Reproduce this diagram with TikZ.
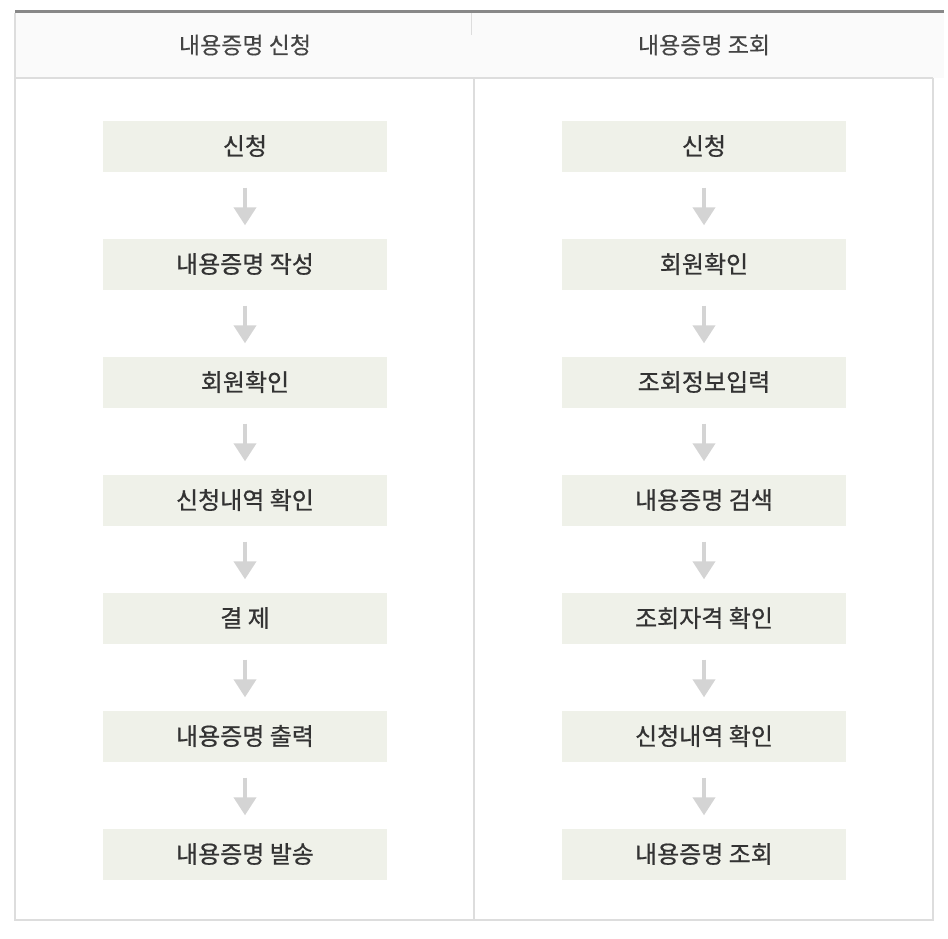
\documentclass[tikz,border=0pt]{standalone}
\usepackage{fontspec}
\setmainfont{Noto Sans CJK KR}
\newfontfamily\boxfont{Noto Sans CJK KR}[FakeBold=0.7]
\newfontfamily\hdrfont{Noto Sans CJK KR}[FakeBold=0.3]
\usetikzlibrary{positioning,arrows.meta}
\definecolor{boxfill}{HTML}{EFF1E9}
\definecolor{txt}{HTML}{333333}
\definecolor{hdrtxt}{HTML}{444444}
\definecolor{hdrfill}{HTML}{FAFAFA}
\definecolor{linegray}{HTML}{DDDDDD}
\definecolor{topgray}{HTML}{888888}
\definecolor{arrowgray}{HTML}{D4D4D4}
\tikzset{
  stepbox/.style={fill=boxfill, draw=none, minimum width=284pt, minimum height=51pt, inner sep=0pt, font=\boxfont\fontsize{24pt}{27pt}\selectfont, text=txt},
  hdr/.style={font=\hdrfont\fontsize{23pt}{26pt}\selectfont, text=hdrtxt, inner sep=0pt},
  flowarrow/.style={draw=arrowgray, line width=4pt, -{Triangle[width=22pt,length=18pt]}, shorten <=16pt, shorten >=13pt}
}
\begin{document}
\begin{tikzpicture}[x=1pt,y=-1pt]
\useasboundingbox (0,0) rectangle (948,938);
\fill[white] (0,0) rectangle (948,938);
% header
\fill[hdrfill] (15,13) rectangle (944,78);
\fill[topgray] (15,10) rectangle (944,13);
\draw[linegray, line width=0.8pt] (471,13) -- (471,35);
\draw[linegray, line width=2pt] (15,78) -- (933,78);
% body frame
\draw[linegray, line width=1.5pt] (15,13) -- (15,920) -- (933,920) -- (933,78);
\draw[linegray, line width=1.5pt] (474,78) -- (474,920);
\node[hdr] (h1) at (245,45) {내용증명 신청};
\node[hdr] (h2) at (704,45) {내용증명 조회};
% left column
\node[stepbox] (l1) at (245,146) {신청};
\node[stepbox] (l2) at (245,264) {내용증명 작성};
\node[stepbox] (l3) at (245,382) {회원확인};
\node[stepbox] (l4) at (245,500) {신청내역 확인};
\node[stepbox] (l5) at (245,618) {결 제};
\node[stepbox] (l6) at (245,736) {내용증명 출력};
\node[stepbox] (l7) at (245,854) {내용증명 발송};
% right column
\node[stepbox] (r1) at (704,146) {신청};
\node[stepbox] (r2) at (704,264) {회원확인};
\node[stepbox] (r3) at (704,382) {조회정보입력};
\node[stepbox] (r4) at (704,500) {내용증명 검색};
\node[stepbox] (r5) at (704,618) {조회자격 확인};
\node[stepbox] (r6) at (704,736) {신청내역 확인};
\node[stepbox] (r7) at (704,854) {내용증명 조회};
\foreach \a/\b in {1/2,2/3,3/4,4/5,5/6,6/7}{
  \draw[flowarrow] (l\a.south) -- (l\b.north);
  \draw[flowarrow] (r\a.south) -- (r\b.north);
}
\end{tikzpicture}
\end{document}
